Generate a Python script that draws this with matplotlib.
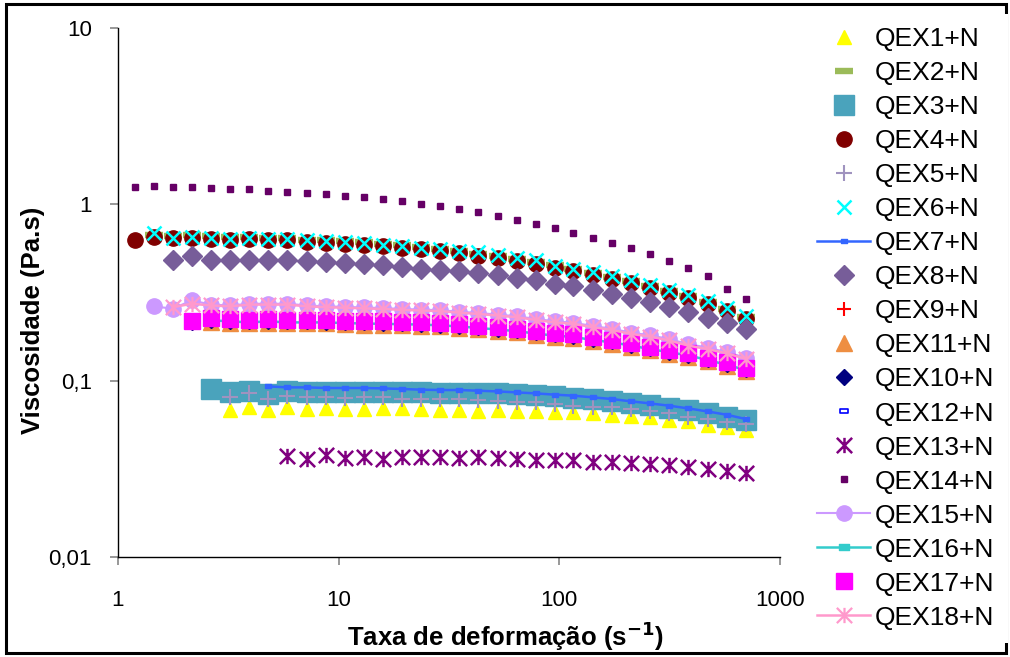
import matplotlib
matplotlib.use('Agg')
import matplotlib.pyplot as plt
from matplotlib.path import Path
from matplotlib.patches import Rectangle
from matplotlib.ticker import NullLocator

plt.rcParams['font.family'] = ['Liberation Sans', 'DejaVu Sans']

# shear rate grid (s-1), every series ends at the last point
shear = [1.19, 1.45, 1.77, 2.16, 2.64, 3.22, 3.94, 4.80, 5.86, 7.16, 8.73, 10.7,
         13.0, 15.9, 19.4, 23.6, 28.9, 35.2, 43.0, 52.5, 64.0, 78.2, 95.4, 116,
         142, 173, 212, 258, 315, 385, 470, 573, 700]

qex1 = [0.0682, 0.0705, 0.0682, 0.0705, 0.0691, 0.0700, 0.0691, 0.0691, 0.0700, 0.0696,
        0.0691, 0.0682, 0.0684, 0.0675, 0.0682, 0.0675, 0.0669, 0.0661, 0.0661, 0.0652,
        0.0641, 0.0633, 0.0619, 0.0598, 0.0587, 0.0562, 0.0543, 0.0525]
qex2 = [0.672, 0.662, 0.666, 0.657, 0.649, 0.652, 0.643, 0.643, 0.629, 0.624, 0.616,
        0.608, 0.594, 0.585, 0.574, 0.559, 0.543, 0.522, 0.506, 0.490, 0.471, 0.450,
        0.429, 0.409, 0.389, 0.368, 0.346, 0.324, 0.303, 0.281, 0.256, 0.231]
qex3 = [0.0897, 0.0858, 0.0877, 0.0840, 0.0877, 0.0866, 0.0866, 0.0866, 0.0866, 0.0866,
        0.0866, 0.0861, 0.0855, 0.0855, 0.0851, 0.0849, 0.0844, 0.0833, 0.0817, 0.0801,
        0.0790, 0.0770, 0.0750, 0.0731, 0.0702, 0.0680, 0.0654, 0.0625, 0.0597]
qex4 = [0.624, 0.652, 0.643, 0.647, 0.638, 0.630, 0.633, 0.624, 0.624, 0.611, 0.606,
        0.598, 0.590, 0.577, 0.568, 0.557, 0.543, 0.527, 0.507, 0.493, 0.476, 0.457,
        0.437, 0.416, 0.397, 0.378, 0.357, 0.336, 0.315, 0.294, 0.272, 0.248, 0.224]
qex5 = [0.0811, 0.0847, 0.0787, 0.0822, 0.0811, 0.0804, 0.0793, 0.0804, 0.0804, 0.0787,
        0.0787, 0.0787, 0.0787, 0.0777, 0.0770, 0.0753, 0.0753, 0.0737, 0.0721, 0.0712,
        0.0705, 0.0691, 0.0675, 0.0652, 0.0625, 0.0606, 0.0580, 0.0568]
qex6 = [0.691, 0.647, 0.652, 0.643, 0.638, 0.643, 0.635, 0.635, 0.624, 0.616, 0.611,
        0.603, 0.590, 0.577, 0.568, 0.557, 0.544, 0.535, 0.513, 0.498, 0.481, 0.448,
        0.431, 0.414, 0.392, 0.373, 0.348, 0.328, 0.306, 0.282, 0.257, 0.234]
qex7 = [0.0928, 0.0916, 0.0916, 0.0909, 0.0909, 0.0909, 0.0904, 0.0897, 0.0889, 0.0885,
        0.0885, 0.0877, 0.0869, 0.0858, 0.0847, 0.0833, 0.0822, 0.0804, 0.0787, 0.0763,
        0.0743, 0.0721, 0.0696, 0.0669, 0.0641, 0.0606]
qex8 = [0.481, 0.506, 0.485, 0.485, 0.485, 0.481, 0.481, 0.475, 0.470, 0.464, 0.460,
        0.450, 0.440, 0.431, 0.422, 0.416, 0.409, 0.395, 0.383, 0.370, 0.354, 0.342,
        0.328, 0.311, 0.295, 0.279, 0.261, 0.244, 0.227, 0.212, 0.197]
qex9 = [0.222, 0.225, 0.222, 0.220, 0.222, 0.220, 0.220, 0.219, 0.218, 0.217, 0.216,
        0.215, 0.213, 0.211, 0.208, 0.204, 0.200, 0.195, 0.190, 0.185, 0.181, 0.175,
        0.169, 0.162, 0.155, 0.148, 0.141, 0.134, 0.126, 0.118]
qex11 = [0.214, 0.213, 0.211, 0.213, 0.211, 0.211, 0.211, 0.209, 0.208, 0.207, 0.206,
         0.205, 0.203, 0.200, 0.196, 0.192, 0.188, 0.182, 0.178, 0.175, 0.168, 0.162,
         0.156, 0.149, 0.142, 0.137, 0.129, 0.121, 0.113]
qex10 = [0.216, 0.222, 0.219, 0.217, 0.219, 0.217, 0.217, 0.216, 0.215, 0.214, 0.213,
         0.212, 0.210, 0.208, 0.205, 0.201, 0.197, 0.193, 0.188, 0.183, 0.179, 0.173,
         0.167, 0.160, 0.153, 0.146, 0.140, 0.132, 0.124, 0.116]
qex12 = [0.232, 0.236, 0.233, 0.230, 0.233, 0.230, 0.230, 0.229, 0.228, 0.227, 0.226,
         0.225, 0.223, 0.221, 0.218, 0.213, 0.209, 0.204, 0.198, 0.193, 0.189, 0.183,
         0.176, 0.169, 0.162, 0.155, 0.148, 0.140, 0.132, 0.124]
qex13 = [0.0375, 0.0359, 0.0378, 0.0362, 0.0367, 0.0359, 0.0367, 0.0367, 0.0367, 0.0364,
         0.0367, 0.0362, 0.0359, 0.0354, 0.0354, 0.0354, 0.0348, 0.0347, 0.0343, 0.0336,
         0.0332, 0.0325, 0.0315, 0.0308, 0.0299]
qex14 = [1.254, 1.266, 1.249, 1.249, 1.233, 1.217, 1.217, 1.190, 1.175, 1.159, 1.140,
         1.115, 1.096, 1.068, 1.040, 1.004, 0.974, 0.937, 0.901, 0.858, 0.818, 0.777,
         0.731, 0.691, 0.647, 0.603, 0.562, 0.520, 0.476, 0.433, 0.390, 0.333, 0.292]
qex15 = [0.264, 0.256, 0.285, 0.270, 0.267, 0.273, 0.273, 0.273, 0.267, 0.264, 0.262,
         0.260, 0.258, 0.255, 0.253, 0.251, 0.246, 0.242, 0.237, 0.232, 0.224, 0.217,
         0.213, 0.204, 0.197, 0.187, 0.181, 0.172, 0.161, 0.154, 0.145, 0.135]
qex16 = [0.220, 0.217, 0.214, 0.217, 0.214, 0.214, 0.214, 0.212, 0.211, 0.210, 0.209,
         0.208, 0.206, 0.203, 0.199, 0.195, 0.191, 0.185, 0.180, 0.177, 0.170, 0.165,
         0.158, 0.151, 0.145, 0.139, 0.131, 0.123, 0.115]
qex17 = [0.218, 0.227, 0.224, 0.221, 0.224, 0.221, 0.221, 0.221, 0.219, 0.218, 0.217,
         0.216, 0.215, 0.213, 0.210, 0.205, 0.201, 0.197, 0.191, 0.186, 0.183, 0.176,
         0.170, 0.163, 0.156, 0.149, 0.143, 0.135, 0.127, 0.118]
qex18 = [0.261, 0.273, 0.267, 0.264, 0.270, 0.270, 0.270, 0.264, 0.261, 0.259, 0.257,
         0.255, 0.252, 0.250, 0.248, 0.243, 0.239, 0.234, 0.229, 0.221, 0.214, 0.210,
         0.201, 0.194, 0.184, 0.178, 0.169, 0.158, 0.151, 0.143, 0.133]

x_ticks = [1, 10, 100, 1000]
x_labels = ['1', '10', '100', '1000']
y_ticks = [0.01, 0.1, 1, 10]
y_labels = ['0,01', '0,1', '1', '10']

# excel-like markers
star = Path([(-1, -1), (1, 1), (-1, 1), (1, -1), (0, -1), (0, 1)],
            [Path.MOVETO, Path.LINETO, Path.MOVETO, Path.LINETO, Path.MOVETO, Path.LINETO])
dash = Path([(-1, -0.55), (1, -0.55), (1, 0.55), (-1, 0.55), (-1, -0.55)],
            [Path.MOVETO, Path.LINETO, Path.LINETO, Path.LINETO, Path.CLOSEPOLY])

series = [
    ('QEX1+N', qex1, dict(ls='none', marker='^', ms=10.5, color='#FFFF00')),
    ('QEX2+N', qex2, dict(ls='none', marker='_', ms=13, mew=4.6, color='#9BBB59')),
    ('QEX3+N', qex3, dict(ls='none', marker='s', ms=14.5, color='#4AA3BC')),
    ('QEX4+N', qex4, dict(ls='none', marker='o', ms=11, color='#800000')),
    ('QEX5+N', qex5, dict(ls='none', marker='+', ms=11, mew=1.5, color='#A093BF')),
    ('QEX6+N', qex6, dict(ls='none', marker='x', ms=10, mew=1.8, color='#00FFFF')),
    ('QEX7+N', qex7, dict(ls='-', lw=1.8, marker=dash, ms=5, color='#3366FF')),
    ('QEX8+N', qex8, dict(ls='none', marker='D', ms=10, color='#775D99')),
    ('QEX9+N', qex9, dict(ls='none', marker='+', ms=10, mew=1.5, color='#FF0000')),
    ('QEX11+N', qex11, dict(ls='none', marker='^', ms=11.5, color='#EE8E42')),
    ('QEX10+N', qex10, dict(ls='none', marker='D', ms=8, color='#000080')),
    ('QEX12+N', qex12, dict(ls='none', marker=dash, ms=6, mfc='white', mew=1.2, color='#0000FF')),
    ('QEX13+N', qex13, dict(ls='none', marker=star, ms=11, mew=1.8, mfc='none', color='#800080')),
    ('QEX14+N', qex14, dict(ls='none', marker='s', ms=4.6, color='#660066')),
    ('QEX15+N', qex15, dict(ls='-', lw=1.5, marker='o', ms=11, color='#CC99FF')),
    ('QEX16+N', qex16, dict(ls='-', lw=1.8, marker=dash, ms=7, color='#33CCCC')),
    ('QEX17+N', qex17, dict(ls='none', marker='s', ms=12, color='#FF00FF')),
    ('QEX18+N', qex18, dict(ls='-', lw=1.8, marker=star, ms=11, mew=1.6, mfc='none', color='#FF99CC')),
]

fig = plt.figure(figsize=(10.1, 6.57), dpi=100)
ax = fig.add_axes([0.1168, 0.1522, 0.6554, 0.8052])

for name, vals, style in series:
    xs = shear[len(shear) - len(vals):]
    ax.plot(xs, vals, label=name, **style)

ax.set_xscale('log')
ax.set_yscale('log')
ax.set_xlim(1, 1000)
ax.set_ylim(0.01, 10)
ax.set_xticks(x_ticks)
ax.set_xticklabels(x_labels)
ax.set_yticks(y_ticks)
ax.set_yticklabels(y_labels)
ax.xaxis.set_minor_locator(NullLocator())
ax.yaxis.set_minor_locator(NullLocator())

for s in ['top', 'right']:
    ax.spines[s].set_visible(False)
for s in ['left', 'bottom']:
    ax.spines[s].set_color('black')
    ax.spines[s].set_linewidth(1.0)

ax.tick_params(direction='out', length=5.8, width=1.2, color='#868686', labelsize=16)
ax.tick_params(axis='y', pad=13)
ax.tick_params(axis='x', pad=18)

fig.text(33 / 1010, 1 - 320 / 657, 'Viscosidade (Pa.s)', rotation=90, ha='center', va='center',
         fontsize=18.5, fontweight='bold')
fig.text(505 / 1010, 1 - 636 / 657, 'Taxa de deformação (s$^{\\mathbf{-1}}$)', ha='center', va='center',
         fontsize=18.5, fontweight='bold')

leg = fig.legend(loc='upper left', bbox_to_anchor=(804 / 1010, 1 - 14 / 657),
                 fontsize=19, frameon=True, fancybox=False, framealpha=1,
                 facecolor='white', edgecolor='none', borderpad=0.5,
                 labelspacing=0.38, handlelength=2.0, handletextpad=0.2, borderaxespad=0)

fig.patches.append(Rectangle((6 / 1010, 4 / 657), 1000 / 1010, 649 / 657, transform=fig.transFigure,
                             fill=False, lw=2.2, edgecolor='black'))

fig.savefig('out.png', dpi=100)
